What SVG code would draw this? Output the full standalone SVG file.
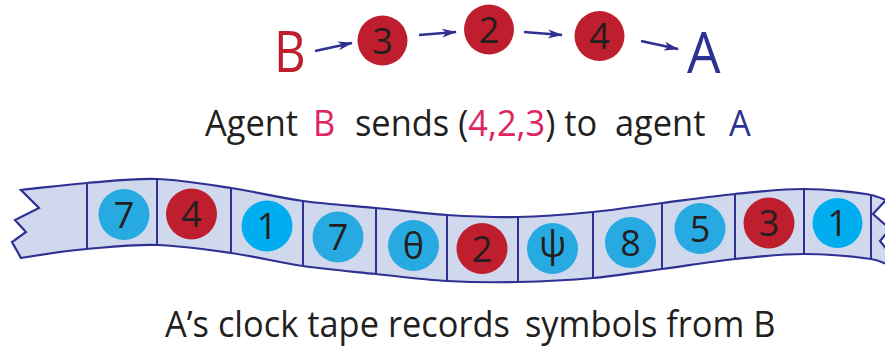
<svg xmlns="http://www.w3.org/2000/svg" width="885" height="351" viewBox="0 0 885 351">
<style>
.lbl{font-family:"Open Sans","Liberation Sans",sans-serif;fill:#231f20}
.dig{font-size:36px;text-anchor:middle}
.red{fill:#be1e2d}
.cy{fill:#27aae1}
.cb{fill:#00aeef}
.arr{stroke:#2e3192;stroke-width:2.5;fill:none;marker-end:url(#ah)}
.div{stroke:#2e3192;stroke-width:2}
</style>
<defs>
<marker id="ah" markerUnits="userSpaceOnUse" markerWidth="16" markerHeight="10" refX="14" refY="5" orient="auto">
<path d="M0,0.5 L15,5 L0,9.5 L4,5 Z" fill="#2e3192"/>
</marker>
</defs>
<rect width="885" height="351" fill="#ffffff"/>

<g id="top-row">
<text id="labelB" class="lbl" transform="translate(274,72) scale(0.86,1)" font-size="57" style="fill:#be1e2d">B</text>
<text id="labelA" class="lbl" transform="translate(687,73) scale(0.93,1)" font-size="57" style="fill:#2e3192">A</text>
</g>

<g id="connectors">
<line class="arr" x1="315" y1="51" x2="352" y2="43"/>
<line class="arr" x1="419" y1="35" x2="456" y2="32"/>
<line class="arr" x1="524" y1="32" x2="562" y2="35"/>
<line class="arr" x1="641" y1="41" x2="678" y2="49"/>
</g>

<g id="node-3"><circle class="red" cx="382.5" cy="40.5" r="25"/><text class="lbl dig" x="382.5" y="53.5">3</text></g>
<g id="node-2"><circle class="red" cx="489" cy="29.5" r="25"/><text class="lbl dig" x="489" y="42.5">2</text></g>
<g id="node-4"><circle class="red" cx="599.5" cy="36" r="25"/><text class="lbl dig" x="599.5" y="49">4</text></g>

<text id="caption1" class="lbl" transform="translate(0,136) scale(0.93,1)" font-size="37"><tspan x="220.4">Agent</tspan><tspan x="336.6" style="fill:#e0245e">B</tspan><tspan x="381.7">sends (</tspan><tspan style="fill:#e0245e">4,2,3</tspan><tspan>) to</tspan><tspan x="661.3">agent</tspan><tspan x="783.9" style="fill:#2e3192">A</tspan></text>

<g id="tape">
<path d="M21,190 C43,187.7 64.3,184.8 87,183 C109.7,181.2 133,178.2 157,179 C181,179.8 206.7,184.3 231,188 C255.3,191.7 278.8,197.7 303,201 C327.2,204.3 352,205.7 376,208 C400,210.3 423.3,213.5 447,215 C470.7,216.5 493.7,217.5 518,217 C542.3,216.5 569,214.3 593,212 C617,209.7 638.3,206 662,203 C685.7,200 711.3,196.3 735,194 C758.7,191.7 781.3,188.8 804,189 C826.7,189.2 860,192.5 871,195 C876,196 882,198.5 886,200 L873,214 L890,229 L880,241 L892,256 L892,266 C885,263.7 880,260.5 871,259 C856.3,257 826.7,254 804,254 C781.3,254 758.7,256.5 735,259 C711.3,261.5 685.7,265.8 662,269 C638.3,272.2 617,275.8 593,278 C569,280.2 542.3,281.5 518,282 C493.7,282.5 470.7,282.3 447,281 C423.3,279.7 400,276.5 376,274 C352,271.5 327.2,269.5 303,266 C278.8,262.5 255.3,256.5 231,253 C206.7,249.5 181,245.7 157,245 C133,244.3 109.7,247 87,249 C64.3,251 43,254.3 21,258 L12,242 L26,232 L15,220 L39,208 Z" fill="#cfd8ec" stroke="#2e3192" stroke-width="2.2" stroke-linejoin="miter"/>
<line class="div" x1="87" y1="183" x2="87" y2="249"/>
<line class="div" x1="157" y1="179" x2="157" y2="245"/>
<line class="div" x1="231" y1="188" x2="231" y2="253"/>
<line class="div" x1="303" y1="201" x2="303" y2="266"/>
<line class="div" x1="376" y1="208" x2="376" y2="274"/>
<line class="div" x1="447" y1="215" x2="447" y2="281"/>
<line class="div" x1="518" y1="217" x2="518" y2="282"/>
<line class="div" x1="593" y1="212" x2="593" y2="278"/>
<line class="div" x1="662" y1="203" x2="662" y2="269"/>
<line class="div" x1="735" y1="194" x2="735" y2="259"/>
<line class="div" x1="804" y1="189" x2="804" y2="254"/>
<line class="div" x1="871" y1="195" x2="871" y2="259"/>
</g>

<g id="cell-7a"><circle class="cy" cx="124" cy="214.5" r="25.5"/><text class="lbl dig" x="124" y="227.5">7</text></g>
<g id="cell-4"><circle class="red" cx="191.5" cy="214" r="25.5"/><text class="lbl dig" x="191.5" y="227">4</text></g>
<g id="cell-1a"><circle class="cb" cx="267" cy="226" r="25.5"/><text class="lbl dig" x="267" y="239">1</text></g>
<g id="cell-7b"><circle class="cy" cx="338" cy="237" r="25.5"/><text class="lbl dig" x="338" y="250">7</text></g>
<g id="cell-theta"><circle class="cy" cx="413.5" cy="245.5" r="25.5"/><text class="lbl dig" x="413.5" y="259" font-size="38">θ</text></g>
<g id="cell-2"><circle class="red" cx="482" cy="248.5" r="25.5"/><text class="lbl dig" x="482" y="261.5">2</text></g>
<g id="cell-psi"><circle class="cy" cx="552.5" cy="248.5" r="25.5"/><text class="lbl dig" x="552.5" y="257">ψ</text></g>
<g id="cell-8"><circle class="cy" cx="630.5" cy="242.5" r="25.5"/><text class="lbl dig" x="630.5" y="255.5">8</text></g>
<g id="cell-5"><circle class="cy" cx="700" cy="228.5" r="25.5"/><text class="lbl dig" x="700" y="241.5">5</text></g>
<g id="cell-3"><circle class="red" cx="769" cy="223" r="25.5"/><text class="lbl dig" x="769" y="236">3</text></g>
<g id="cell-1b"><circle class="cb" cx="837.5" cy="223" r="25"/><text class="lbl dig" x="837.5" y="236">1</text></g>

<text id="caption2" class="lbl" transform="translate(0,337) scale(0.93,1)" font-size="37"><tspan x="177.4">A’s clock tape records</tspan><tspan x="564.5">symbols from B</tspan></text>
</svg>
